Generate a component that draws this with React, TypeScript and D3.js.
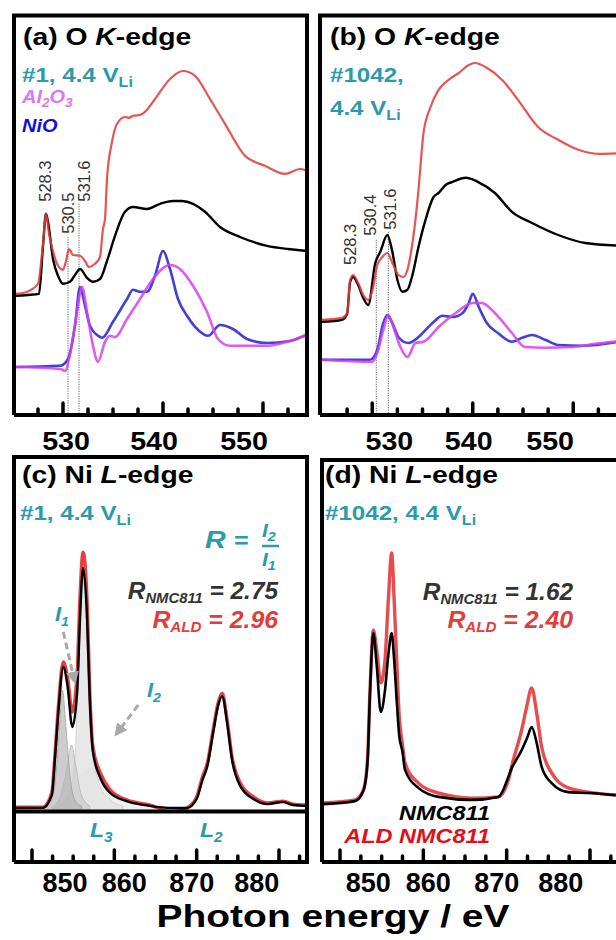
import React from "react";
import * as d3 from "d3";

type P = [number, number];

const FONT = "'Liberation Sans', Arial, Helvetica, sans-serif";
const TEAL = "#2b9aa9";
const RED = "#e23c3c";
const BLUE = "#2c2cd4";
const MAGENTA = "#d63ff0";

// ---------- Panel (a): O K-edge, #1, 4.4 V ----------
const aBlack: P[] = [[524.9,29.8],[526.5,30.0],[527.6,30.3],[528.0,42.3],[528.3,50.3],[528.5,48.3],[529.0,39.0],[529.5,34.8],[530.0,32.8],[530.7,33.3],[531.2,35.0],[531.7,36.5],[532.4,34.3],[533.0,33.3],[533.7,34.0],[534.4,38.5],[535.2,44.8],[536.2,50.8],[537.0,52.0],[538.4,51.5],[539.7,52.8],[541.0,53.5],[541.9,53.5],[543.0,52.8],[544.2,50.8],[545.7,47.0],[547.7,44.5],[550.4,42.3],[552.5,41.5],[554.5,41.0],[556,40.8]];
const aRed: P[] = [[524.9,30.3],[526.0,30.5],[526.8,31.3],[527.5,32.8],[528.0,42.8],[528.3,50.3],[528.6,45.3],[529.0,41.0],[529.4,37.8],[530.0,36.3],[530.3,38.5],[530.6,41.5],[531.0,40.0],[531.7,39.8],[532.2,38.5],[532.6,37.0],[533.2,37.8],[533.7,39.5],[534.0,46.5],[534.2,49.0],[534.4,59.0],[534.9,68.3],[535.4,72.8],[536.2,74.5],[536.6,74.3],[537.0,74.8],[537.7,75.0],[538.2,75.8],[539.2,79.0],[540.7,84.0],[542.0,86.0],[543.2,84.8],[544.7,79.0],[546.2,72.8],[548.2,64.8],[550.2,62.3],[552.2,60.3],[553.7,61.5],[554.7,61.0],[556,61.0]];
const aAl2O3: P[] = [[525.0,12.0],[529.7,11.5],[530.2,11.0],[530.8,16.5],[531.4,25.8],[531.9,32.0],[532.4,25.8],[533.0,17.3],[533.5,13.3],[534.2,18.3],[534.7,19.8],[535.2,19.5],[536.4,24.0],[537.7,29.0],[539.0,34.0],[540.7,37.5],[541.7,36.5],[543.0,32.3],[544.4,25.8],[545.5,19.0],[546.7,17.3],[550.4,17.3],[552.7,18.5],[554.7,20.3],[556,21.0]];
const aNiO: P[] = [[525.0,12.0],[529.7,12.3],[530.5,14.0],[531.2,22.3],[531.7,32.0],[532.2,27.3],[532.7,22.3],[533.7,19.5],[533.9,19.3],[535.0,23.3],[536.4,29.0],[537.0,31.3],[537.7,30.8],[538.4,30.8],[539.2,34.8],[540.0,41.0],[540.7,36.5],[541.5,29.0],[542.4,24.8],[544.0,20.3],[544.5,19.8],[545.7,22.5],[547.0,21.5],[548.4,19.0],[550.4,18.0],[552.7,18.5],[554.7,20.3],[556,21.0]];
const aPeakLines = [530.5, 531.6];
const aPeakLineTop = [44.5, 52.8];
const aPeakLabels = ["528.3", "530.5", "531.6"];
const aPeakLabelAt: P[] = [[528.8, 53.3], [531.1, 45.3], [532.7, 53.3]];

// ---------- Panel (b): O K-edge, #1042, 4.4 V ----------
const bRed: P[] = [[525.0,23.8],[527.0,24.3],[527.5,25.5],[527.8,33.8],[528.1,35.0],[528.6,33.0],[529.1,30.0],[529.6,28.8],[530.1,32.0],[530.5,37.5],[531.0,39.5],[531.5,40.5],[532.0,38.0],[532.6,35.0],[533.1,34.5],[533.5,36.3],[534.0,43.0],[534.3,48.8],[534.6,56.3],[535.1,70.5],[535.8,77.0],[536.6,81.3],[537.6,83.8],[538.6,85.5],[539.6,87.5],[540.2,88.0],[541.4,86.8],[542.9,83.8],[544.5,78.8],[546.5,72.0],[548.5,68.8],[550.5,66.3],[552.5,65.3],[555.0,65.5]];
const bBlack: P[] = [[525.0,23.3],[527.0,23.8],[527.5,25.3],[527.8,33.3],[528.1,34.5],[528.6,32.5],[529.1,29.3],[529.6,27.5],[530.3,38.0],[530.8,40.8],[531.5,45.0],[532.0,40.8],[532.5,33.8],[533.0,30.8],[533.5,31.3],[534.0,35.0],[534.6,42.0],[535.3,48.8],[536.1,54.5],[536.6,55.5],[537.3,57.5],[538.0,58.3],[539.3,59.3],[540.5,58.3],[542.2,55.5],[543.9,50.8],[545.9,48.0],[548.5,45.0],[551.2,43.0],[555.0,42.3]];
const bAl2O3: P[] = [[525.0,13.8],[530.0,13.3],[530.5,15.5],[531.1,21.3],[531.6,25.0],[532.1,22.0],[532.8,17.0],[533.5,14.5],[534.3,18.0],[535.1,18.3],[536.6,22.0],[538.3,25.5],[540.0,28.0],[540.9,28.0],[542.2,25.5],[543.9,20.5],[545.2,17.0],[547.2,16.8],[549.9,17.0],[552.2,17.8],[555.0,18.5]];
const bNiO: P[] = [[525.0,13.8],[529.8,13.8],[530.5,16.3],[531.1,23.0],[531.5,25.0],[532.0,23.0],[532.6,19.5],[533.6,18.0],[534.6,19.5],[536.0,23.0],[537.0,24.8],[538.0,24.5],[539.0,25.5],[539.6,28.0],[540.0,30.3],[540.6,27.0],[541.4,23.0],[542.5,20.5],[543.9,18.3],[544.9,19.3],[545.9,20.0],[547.2,18.8],[548.5,17.5],[550.9,17.3],[555.0,18.5]];
const bPeakLines = [530.4, 531.6];
const bPeakLineTop = [43.8, 45.8];
const bPeakLabels = ["528.3", "530.4", "531.6"];
const bPeakLabelAt: P[] = [[528.4, 37.5], [530.4, 44.8], [532.4, 46.3]];

// ---------- Panel (c): Ni L-edge, #1 ----------
const cRed: P[] = [[847.6,1.3],[851.3,1.3],[852.4,6.0],[852.8,19.3],[853.2,34.7],[853.8,49.7],[854.3,44.7],[854.9,33.0],[855.5,47.0],[855.8,69.3],[856.2,86.3],[856.7,69.3],[857.0,41.3],[857.4,21.3],[858.3,12.7],[859.5,7.0],[861.5,3.7],[864.3,2.0],[867.0,-0.3],[868.8,1.0],[870.0,4.7],[870.7,11.3],[871.3,16.0],[872.0,27.0],[872.6,36.0],[873.1,39.3],[873.7,30.3],[874.3,18.0],[875.3,9.3],[876.9,4.7],[878.6,2.7],[880.5,3.3],[881.7,2.3],[883.5,2.0]];
const cBlack: P[] = [[847.6,1.0],[851.3,1.0],[852.4,5.3],[852.8,18.0],[853.2,33.0],[853.8,48.0],[854.3,42.0],[854.9,28.0],[855.5,40.3],[855.8,62.0],[856.2,81.0],[856.7,63.7],[857.0,38.7],[857.4,19.7],[858.3,11.0],[859.5,6.0],[861.5,3.3],[864.3,1.7],[867.0,1.0],[868.8,1.0],[870.0,4.0],[870.7,10.3],[871.3,15.0],[872.0,26.0],[872.6,35.0],[873.1,38.3],[873.7,29.3],[874.3,17.0],[875.3,8.3],[876.9,4.0],[878.6,2.3],[880.5,3.0],[881.7,2.0],[883.5,1.7]];
const cFitA: P[] = [[851.5,1.3],[852.4,3.7],[852.9,12.0],[853.3,27.0],[853.7,40.3],[854.1,28.7],[854.6,12.0],[855.2,3.7],[856.0,1.7]];
const cFitB: P[] = [[852.5,1.3],[853.5,5.3],[854.2,13.7],[854.8,22.0],[855.3,15.3],[856.0,5.3],[857.0,1.7]];
const cFitC: P[] = [[853.5,1.7],[854.5,5.3],[855.2,17.0],[855.7,50.3],[856.2,78.7],[856.7,53.7],[857.3,22.0],[858.2,8.7],[859.5,3.7],[861.0,1.7]];
const cFitD: P[] = [[853.0,1.3],[854.5,5.3],[856.0,12.0],[857.5,14.3],[859.0,10.3],[860.5,5.3],[862.5,2.7],[865.0,1.3]];
const cArrow1: P[] = [[853.8, 59.7], [855.2, 43.0]];
const cArrow2: P[] = [[862.9, 35.3], [860.2, 25.5]];

// ---------- Panel (d): Ni L-edge, #1042 ----------
const dRed: P[] = [[847.8,2.7],[851.8,3.7],[852.8,7.0],[853.3,17.0],[853.6,40.3],[854.0,60.3],[854.4,53.7],[854.9,42.7],[855.4,50.3],[855.8,70.3],[856.2,86.0],[856.5,70.3],[856.8,50.3],[857.1,32.0],[857.5,22.0],[857.8,16.0],[859.4,9.3],[861.8,6.0],[865.8,4.3],[869.0,4.7],[870.2,10.3],[870.8,17.0],[871.8,27.0],[872.4,34.7],[873.0,41.0],[873.6,32.7],[874.2,21.3],[875.4,12.7],[877.4,7.7],[879.8,6.3],[883.1,5.3]];
const dBlack: P[] = [[847.8,2.3],[851.8,3.3],[852.8,6.7],[853.3,16.3],[853.6,39.3],[854.0,59.3],[854.4,48.7],[854.9,33.0],[855.4,40.3],[855.8,52.0],[856.2,59.3],[856.5,50.3],[856.8,37.0],[857.1,25.3],[857.5,19.7],[857.8,13.7],[859.4,7.7],[861.8,4.7],[865.8,3.7],[869.0,4.7],[870.2,11.3],[870.6,14.3],[871.0,16.3],[871.8,20.3],[872.5,24.7],[873.0,28.0],[873.6,22.7],[874.2,14.7],[875.4,9.3],[877.4,6.3],[879.8,6.0],[883.1,5.3]];

// ---------- Axes ----------
const oMajor = [530, 540, 550];
const oMinor = [527.5, 532.5, 535, 537.5, 542.5, 545, 547.5, 552.5];
const oTickLabels = ["530", "540", "550"];
const aTickLabelAt = [530.3, 539.1, 548.1];
const bTickLabelAt = [531.7, 539.6, 547.7];
const niMajor = [850, 860, 870, 880];
const niMinor = [852.5, 855, 857.5, 862.5, 865, 867.5, 872.5, 875, 877.5, 882.5];
const niTickLabels = ["850", "860", "870", "880"];
const cTickLabelAt = [854.0, 861.2, 869.4, 877.3];
const dTickLabelAt = [853.4, 860.6, 868.8, 876.5];

type Sc = d3.ScaleLinear<number, number>;

function curve(x: Sc, y: Sc, data: P[]) {
  return d3.line<P>().x(d => x(d[0])).y(d => y(d[1])).curve(d3.curveMonotoneX)(data) || "";
}
function areaPath(x: Sc, y: Sc, data: P[]) {
  return d3.area<P>().x(d => x(d[0])).y0(y(0)).y1(d => y(d[1])).curve(d3.curveMonotoneX)(data) || "";
}

function T(props: any) {
  const { x, y, sx = 1, anchor = "start", size, weight = "bold", italic = false, fill = "#000", children } = props;
  return (
    <text transform={`translate(${x},${y}) scale(${sx},1)`} textAnchor={anchor} fontSize={size}
      fontWeight={weight} fontStyle={italic ? "italic" : "normal"} fill={fill} fontFamily={FONT}>
      {children}
    </text>
  );
}

function Ticks({ x, y0, major, minor }: { x: Sc; y0: number; major: number[]; minor: number[] }) {
  return (
    <g stroke="#000" strokeWidth={3.5} strokeLinecap="round">
      {major.map(v => <line key={"M" + v} x1={x(v)} x2={x(v)} y1={y0} y2={y0 - 12} />)}
      {minor.map(v => <line key={"m" + v} x1={x(v)} x2={x(v)} y1={y0} y2={y0 - 6} />)}
    </g>
  );
}

export default function App() {
  const xA = d3.scaleLinear().domain([525, 555]).range([13, 313]);
  const yA = d3.scaleLinear().domain([0, 100]).range([415, 15]);
  const xB = d3.scaleLinear().domain([525, 555]).range([322, 623.5]);
  const yB = yA;
  const xC = d3.scaleLinear().domain([850, 880]).range([32, 279]);
  const yC = d3.scaleLinear().domain([0, 100]).range([811, 511]);
  const xD = d3.scaleLinear().domain([850, 880]).range([340, 590]);
  const yD = yC;

  const peakLabels = (x: Sc, y: Sc, labels: string[], at: P[]) =>
    labels.map((t, i) => (
      <text key={t + i} transform={`translate(${x(at[i][0])},${y(at[i][1])}) rotate(-90)`} fontSize={16.5}
        fontFamily={FONT} fill="#333">{t}</text>
    ));
  const peakLines = (x: Sc, y: Sc, lines: number[], tops: number[]) =>
    lines.map((v, i) => (
      <line key={v} x1={x(v)} x2={x(v)} y1={y(tops[i])} y2={y(0)} stroke="#555" strokeWidth={0.9} strokeDasharray="1.2 1.2" />
    ));

  const Li = (size: number) => <tspan fontSize={size} dy={5} fontWeight="bold">Li</tspan>;

  return (
    <svg width={616} height={940} style={{ position: "absolute", left: 0, top: 0, background: "#fff" }}
      fontFamily={FONT}>
      <defs>
        <clipPath id="clipA"><rect x={14} y={15} width={293} height={400} /></clipPath>
        <clipPath id="clipB"><rect x={320} y={15} width={300} height={400} /></clipPath>
        <clipPath id="clipC"><rect x={14} y={457} width={293} height={354} /></clipPath>
        <clipPath id="clipD"><rect x={322} y={460} width={300} height={402} /></clipPath>
        <marker id="arrowGray" viewBox="0 0 10 10" refX={8} refY={5} markerWidth={13} markerHeight={13}
          markerUnits="userSpaceOnUse" orient="auto">
          <path d="M0,0 L10,5 L0,10 z" fill="#a9a9a9" />
        </marker>
      </defs>
      <rect x={0} y={0} width={616} height={940} fill="#fff" />

      {/* ---------- Panel (a) ---------- */}
      <g clipPath="url(#clipA)">
        {peakLines(xA, yA, aPeakLines, aPeakLineTop)}
        <path d={curve(xA, yA, aBlack)} fill="none" stroke="#000" strokeWidth={2.4} />
        <path d={curve(xA, yA, aRed)} fill="none" stroke={RED} strokeWidth={2.2} strokeOpacity={0.88} />
        <path d={curve(xA, yA, aNiO)} fill="none" stroke={BLUE} strokeWidth={2.6} strokeOpacity={0.9} />
        <path d={curve(xA, yA, aAl2O3)} fill="none" stroke={MAGENTA} strokeWidth={2.6} strokeOpacity={0.85} />
        {peakLabels(xA, yA, aPeakLabels, aPeakLabelAt)}
      </g>
      <Ticks x={xA} y0={415} major={oMajor} minor={oMinor} />
      <path d="M14,415 V15.5 H307 V415 H14" fill="none" stroke="#000" strokeWidth={4} />
      {oTickLabels.map((t, i) => (
        <T key={t} x={xA(aTickLabelAt[i])} y={450} sx={1.1} anchor="middle" size={26}>{t}</T>
      ))}
      <T x={23} y={45} sx={1.18} size={24}>(a) O <tspan fontStyle="italic">K</tspan>-edge</T>
      <T x={22} y={82} sx={1.15} size={21} fill={TEAL}>#1, 4.4 V{Li(14)}</T>
      <T x={22} y={103} sx={1.05} size={19} italic fill="#d878f2">Al<tspan fontSize={13} dy={4}>2</tspan><tspan dy={-4}>O</tspan><tspan fontSize={13} dy={4}>3</tspan></T>
      <T x={22} y={132} sx={1.05} size={19} italic fill="#1010dd">NiO</T>

      {/* ---------- Panel (b) ---------- */}
      <g clipPath="url(#clipB)">
        {peakLines(xB, yB, bPeakLines, bPeakLineTop)}
        <path d={curve(xB, yB, bBlack)} fill="none" stroke="#000" strokeWidth={2.4} />
        <path d={curve(xB, yB, bRed)} fill="none" stroke={RED} strokeWidth={2.2} strokeOpacity={0.88} />
        <path d={curve(xB, yB, bNiO)} fill="none" stroke={BLUE} strokeWidth={2.6} strokeOpacity={0.9} />
        <path d={curve(xB, yB, bAl2O3)} fill="none" stroke={MAGENTA} strokeWidth={2.6} strokeOpacity={0.85} />
        {peakLabels(xB, yB, bPeakLabels, bPeakLabelAt)}
      </g>
      <Ticks x={xB} y0={415} major={oMajor} minor={oMinor} />
      <path d="M320,415 V15.5 H620 M320,415 H620" fill="none" stroke="#000" strokeWidth={4} />
      {oTickLabels.map((t, i) => (
        <T key={t} x={xB(bTickLabelAt[i])} y={450} sx={1.1} anchor="middle" size={26}>{t}</T>
      ))}
      <T x={330} y={45} sx={1.18} size={24}>(b) O <tspan fontStyle="italic">K</tspan>-edge</T>
      <T x={330} y={82} sx={1.15} size={21} fill={TEAL}>#1042,</T>
      <T x={330} y={115} sx={1.15} size={21} fill={TEAL}>4.4 V{Li(14)}</T>

      {/* ---------- Panel (c) ---------- */}
      <g clipPath="url(#clipC)">
        <path d={areaPath(xC, yC, cFitD)} fill="#ededed" fillOpacity={0.85} stroke="#dadada" strokeWidth={0.8} />
        <path d={areaPath(xC, yC, cFitC)} fill="#e2e2e2" fillOpacity={0.8} stroke="#cccccc" strokeWidth={0.8} />
        <path d={areaPath(xC, yC, cFitB)} fill="#c6c6c6" fillOpacity={0.6} stroke="#b4b4b4" strokeWidth={0.8} />
        <path d={areaPath(xC, yC, cFitA)} fill="#b2b2b2" fillOpacity={0.65} stroke="#a0a0a0" strokeWidth={0.8} />
        <path d={curve(xC, yC, cRed)} fill="none" stroke="#e02024" strokeWidth={3.4} strokeOpacity={0.85} />
        <path d={curve(xC, yC, cBlack)} fill="none" stroke="#000" strokeWidth={2.4} />
      </g>
      <line x1={xC(cArrow1[0][0])} y1={yC(cArrow1[0][1])} x2={xC(cArrow1[1][0])} y2={yC(cArrow1[1][1])}
        stroke="#a9a9a9" strokeWidth={3} strokeDasharray="7 4" markerEnd="url(#arrowGray)" />
      <line x1={xC(cArrow2[0][0])} y1={yC(cArrow2[0][1])} x2={xC(cArrow2[1][0])} y2={yC(cArrow2[1][1])}
        stroke="#a9a9a9" strokeWidth={3} strokeDasharray="7 4" markerEnd="url(#arrowGray)" />
      <Ticks x={xC} y0={862} major={niMajor} minor={niMinor} />
      <path d="M14,862 V457 H307 V862 H14 M14,811.5 H307" fill="none" stroke="#000" strokeWidth={4} />
      {niTickLabels.map((t, i) => (
        <T key={t} x={xC(cTickLabelAt[i])} y={892} anchor="middle" size={27}>{t}</T>
      ))}
      <T x={22} y={483} sx={1.18} size={24}>(c) Ni <tspan fontStyle="italic">L</tspan>-edge</T>
      <T x={20} y={520} sx={1.15} size={21} fill={TEAL}>#1, 4.4 V{Li(14)}</T>
      {/* R = I2 / I1 */}
      <T x={205} y={548} sx={1.25} size={23} italic fill={TEAL}>R</T>
      <T x={234} y={548} sx={1.15} size={22} fill={TEAL}>=</T>
      <T x={262} y={537} sx={1.1} size={19} italic fill={TEAL}>I<tspan fontSize={13} dy={4}>2</tspan></T>
      <line x1={262} x2={279} y1={546} y2={546} stroke={TEAL} strokeWidth={2.5} />
      <T x={262} y={566} sx={1.1} size={19} italic fill={TEAL}>I<tspan fontSize={13} dy={4}>1</tspan></T>
      <T x={278} y={599} sx={1.06} anchor="end" size={23} italic fill="#333">R<tspan fontSize={14} dy={4}>NMC811</tspan><tspan dy={-4}> = 2.75</tspan></T>
      <T x={278} y={628} sx={1.08} anchor="end" size={23} italic fill={RED}>R<tspan fontSize={14} dy={4}>ALD</tspan><tspan dy={-4}> = 2.96</tspan></T>
      <T x={55} y={621} sx={1.1} size={20} italic fill={TEAL}>I<tspan fontSize={13} dy={5}>1</tspan></T>
      <T x={147} y={697} sx={1.1} size={20} italic fill={TEAL}>I<tspan fontSize={13} dy={5}>2</tspan></T>
      <T x={90} y={837} sx={1.1} size={21} italic fill={TEAL}>L<tspan fontSize={14} dy={5}>3</tspan></T>
      <T x={200} y={837} sx={1.1} size={21} italic fill={TEAL}>L<tspan fontSize={14} dy={5}>2</tspan></T>

      {/* ---------- Panel (d) ---------- */}
      <g clipPath="url(#clipD)">
        <path d={curve(xD, yD, dRed)} fill="none" stroke="#e02024" strokeWidth={3.4} strokeOpacity={0.8} />
        <path d={curve(xD, yD, dBlack)} fill="none" stroke="#000" strokeWidth={2.6} />
      </g>
      <Ticks x={xD} y0={862} major={niMajor} minor={niMinor} />
      <path d="M322,862 V460 H620 M322,862 H620" fill="none" stroke="#000" strokeWidth={4} />
      {niTickLabels.map((t, i) => (
        <T key={t} x={xD(dTickLabelAt[i])} y={892} anchor="middle" size={27}>{t}</T>
      ))}
      <T x={325} y={483} sx={1.18} size={24}>(d) Ni <tspan fontStyle="italic">L</tspan>-edge</T>
      <T x={325} y={520} sx={1.15} size={21} fill={TEAL}>#1042, 4.4 V{Li(14)}</T>
      <T x={573} y={600} sx={1.06} anchor="end" size={23} italic fill="#333">R<tspan fontSize={14} dy={4}>NMC811</tspan><tspan dy={-4}> = 1.62</tspan></T>
      <T x={573} y={628} sx={1.08} anchor="end" size={23} italic fill={RED}>R<tspan fontSize={14} dy={4}>ALD</tspan><tspan dy={-4}> = 2.40</tspan></T>
      <T x={490} y={820} sx={1.12} anchor="end" size={21} italic fill="#000">NMC811</T>
      <T x={490} y={843} sx={1.12} anchor="end" size={21} italic fill="#e0101a">ALD NMC811</T>

      {/* ---------- Shared axis title ---------- */}
      <text x={333} y={927} textAnchor="middle" fontSize={31} fontWeight="bold" fontFamily={FONT}
        textLength={353} lengthAdjust="spacingAndGlyphs">Photon energy / eV</text>
    </svg>
  );
}
